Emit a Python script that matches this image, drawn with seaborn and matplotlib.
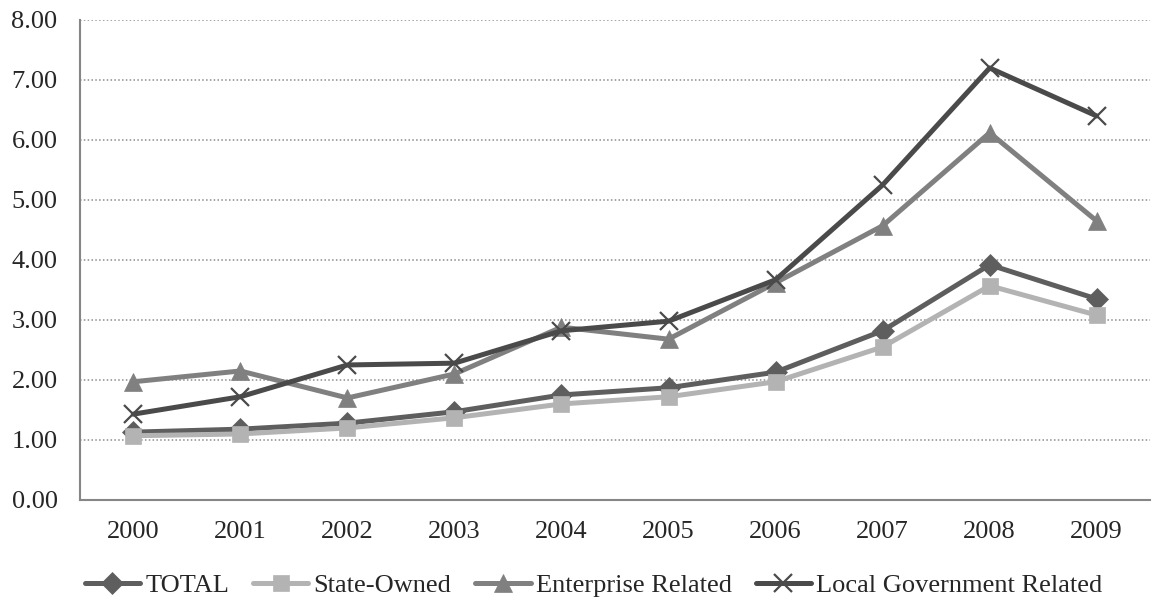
import matplotlib
matplotlib.use("Agg")
import matplotlib.pyplot as plt
import seaborn as sns
import pandas as pd
from matplotlib.ticker import FixedLocator

years = ["2000", "2001", "2002", "2003", "2004", "2005", "2006", "2007", "2008", "2009"]
total = [1.13, 1.18, 1.28, 1.47, 1.75, 1.87, 2.13, 2.82, 3.92, 3.35]
state_owned = [1.07, 1.10, 1.20, 1.37, 1.60, 1.72, 1.97, 2.55, 3.57, 3.08]
enterprise = [1.97, 2.15, 1.70, 2.10, 2.88, 2.68, 3.62, 4.57, 6.12, 4.65]
local_gov = [1.43, 1.72, 2.25, 2.28, 2.82, 2.98, 3.67, 5.25, 7.20, 6.40]

series_names = ["TOTAL", "State-Owned", "Enterprise Related", "Local Government Related"]
series_values = [total, state_owned, enterprise, local_gov]
colors = ["#5e5e5e", "#b3b3b3", "#808080", "#4a4a4a"]
markers = ["D", "s", "^", "x"]

rows = []
for name, vals in zip(series_names, series_values):
    for i, v in enumerate(vals):
        rows.append({"pos": i, "value": v, "series": name})
df = pd.DataFrame(rows)

sns.set_style("white")
plt.rcParams["font.family"] = ["Liberation Serif", "DejaVu Serif"]

fig = plt.figure(figsize=(11.56, 6.06), dpi=100)
ax = fig.add_axes([0.069, 0.175, 0.926, 0.792])

marker_sizes = {"D": 11, "s": 12, "^": 12.5, "x": 13}
for name, col, mk in zip(series_names, colors, markers):
    sub = df[df["series"] == name]
    sns.lineplot(data=sub, x="pos", y="value", ax=ax, color=col, linewidth=3.6,
                 marker=mk, markersize=marker_sizes[mk], markeredgecolor=col,
                 markeredgewidth=1.6 if mk == "x" else 0.5, label=name)

ax.set_xlim(-0.5, 9.5)
ax.set_ylim(0, 8)
ax.set_yticks([0, 1, 2, 3, 4, 5, 6, 7, 8])
ax.set_yticklabels([f"{v:.2f}" for v in range(9)])
ax.set_xticks(range(10))
ax.set_xticklabels(years)
ax.xaxis.set_minor_locator(FixedLocator([i - 0.5 for i in range(11)]))
ax.tick_params(axis="x", which="major", length=0, pad=15, labelsize=19)
ax.tick_params(axis="x", which="minor", length=7, width=1.2, color="#868686", direction="out")
ax.tick_params(axis="y", which="major", length=6, width=1.2, color="#868686", direction="out",
               labelsize=19, pad=10)
ax.set_xlabel("")
ax.set_ylabel("")

ax.yaxis.grid(True, linestyle=(0, (1, 1.5)), color="#8c8c8c", linewidth=1.1)
ax.xaxis.grid(False)
ax.set_axisbelow(True)

for side in ["top", "right"]:
    ax.spines[side].set_visible(False)
for side in ["left", "bottom"]:
    ax.spines[side].set_color("#868686")
    ax.spines[side].set_linewidth(1.5)

ax.legend(loc="center", bbox_to_anchor=(0.48, -0.178), ncol=4, frameon=False,
          fontsize=19, handlelength=2.1, columnspacing=0.9, handletextpad=0.2)

fig.savefig("out.png", dpi=100)
